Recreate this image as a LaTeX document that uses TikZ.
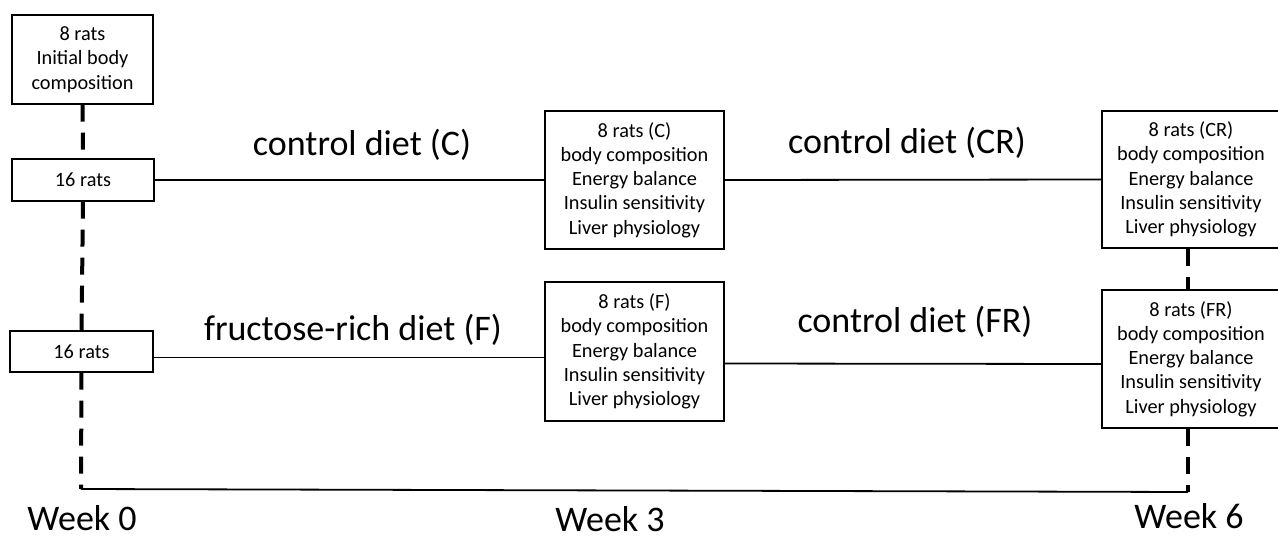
\documentclass[tikz,border=0pt]{standalone}
\usepackage{fontspec}
\setmainfont{Carlito}
\usetikzlibrary{positioning,calc}
\tikzset{
  every picture/.append style={line width=1.2pt},
}

\begin{document}
\begin{tikzpicture}[
    x=1pt, y=-1pt,
    box/.style={
        rectangle,
        draw=black,
        fill=white,
        line width=1.2pt,
        align=center,
        inner sep=2pt,
        font=\fontsize{20.3}{24.3}\selectfont
    },
    biglabel/.style={
        anchor=base,
        inner sep=0pt,
        font=\fontsize{36}{43}\selectfont
    },
    timeline/.style={
        line width=4pt,
        dash pattern=on 17pt off 11pt
    },
    link/.style={
        line width=1.8pt
    }
]
\useasboundingbox (0,0) rectangle (1278,538);
\clip (0,0) rectangle (1278,538);

% Nodes
\node[box, minimum width=141, minimum height=89] (initial) at (82.5,59.5) {8 rats\\Initial body\\composition};
\node[box, minimum width=142, minimum height=42] (groupC) at (83,180) {16 rats};
\node[box, minimum width=143, minimum height=41] (groupF) at (81.5,351.5) {16 rats};

\node[box, minimum width=179, minimum height=138] (ratsC) at (634.5,180) {8 rats (C)\\body composition\\Energy balance\\Insulin sensitivity\\Liver physiology};
\node[box, minimum width=179, minimum height=139] (ratsF) at (634.5,351.5) {8 rats (F)\\body composition\\Energy balance\\Insulin sensitivity\\Liver physiology};

\node[box, minimum width=178, minimum height=137] (ratsCR) at (1191,179.5) {8 rats (CR)\\body composition\\Energy balance\\Insulin sensitivity\\Liver physiology};
\node[box, minimum width=178, minimum height=138] (ratsFR) at (1191,359) {8 rats (FR)\\body composition\\Energy balance\\Insulin sensitivity\\Liver physiology};

% Labels
\node[biglabel] (dietC) at (362,155) {control diet (C)};
\node[biglabel] (dietF) at (353,340) {fructose-rich diet (F)};
\node[biglabel] (dietCR) at (907,153) {control diet (CR)};
\node[biglabel] (dietFR) at (915,332) {control diet (FR)};

\node[biglabel] (week0) at (82,530) {Week 0};
\node[biglabel] (week3) at (610,531) {Week 3};
\node[biglabel] (week6) at (1189,528) {Week 6};

\coordinate (w0) at (81,489);
\coordinate (w6) at (1188,492);

% Diet lines
\draw[link] (groupC.east) -- (ratsC.west);
\draw[link] (ratsC.east) -- (ratsCR.west);
\draw[link] ([yshift=-6pt]groupF.east) -- ([yshift=-6pt]ratsF.west);
\draw[link] ([yshift=-12pt]ratsF.east) -- ([yshift=-5pt]ratsFR.west);

% Time axis
\draw[timeline] (initial.south) -- (groupC.north);
\draw[timeline] (groupC.south) -- (groupF.north);
\draw[timeline] (groupF.south) -- (w0);
\draw[timeline] (ratsCR.south -| w6) -- (ratsFR.north -| w6);
\draw[timeline] (ratsFR.south -| w6) -- (w6);
\draw[link] (w0) -- (w6);

\end{tikzpicture}
\end{document}
